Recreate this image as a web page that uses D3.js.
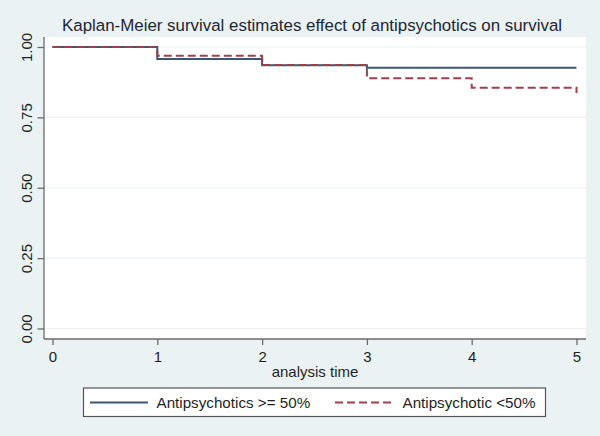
<!DOCTYPE html>
<html>
<head>
<meta charset="utf-8">
<script src="https://cdn.jsdelivr.net/npm/d3@7"></script>
<style>
  html, body { margin: 0; padding: 0; background: #eaf2f3; }
  svg { display: block; font-family: "Liberation Sans", Arial, sans-serif; }
</style>
</head>
<body>
<svg id="chart" width="600" height="436"></svg>
<script>
// ---- data ----
const times = [0, 1, 2, 3, 4, 5];
const survHigh = [1.000, 0.957, 0.935, 0.926, 0.926, 0.926];  // Antipsychotics >= 50%
const survLow  = [1.000, 0.969, 0.936, 0.889, 0.855, 0.837];  // Antipsychotic <50%
const xTicks = [0, 1, 2, 3, 4, 5];
const yTicks = [0, 0.25, 0.5, 0.75, 1];
const seriesNames = ["Antipsychotics >= 50%", "Antipsychotic <50%"];
const titleText = "Kaplan-Meier survival estimates effect of antipsychotics on survival";
const xTitle = "analysis time";

// ---- layout ----
const W = 600, H = 436;
const plot = { left: 44, right: 586, top: 37, bottom: 339 };
const svg = d3.select("#chart");

svg.append("rect").attr("width", W).attr("height", H).attr("fill", "#eaf2f3");
svg.append("rect")
  .attr("x", plot.left).attr("y", plot.top)
  .attr("width", plot.right - plot.left).attr("height", plot.bottom - plot.top)
  .attr("fill", "#ffffff");

const x = d3.scaleLinear().domain([0, 5]).range([52.5, 576.5]);
const y = d3.scaleLinear().domain([0, 1]).range([328.5, 47]);

// gridlines
svg.append("g").selectAll("line").data(yTicks).join("line")
  .attr("x1", plot.left).attr("x2", plot.right)
  .attr("y1", d => y(d)).attr("y2", d => y(d))
  .attr("stroke", "#eaf2f3").attr("stroke-width", 1.2);

const axisColor = "#6a6a6a";
const textColor = "#1f1f1f";

// y axis
const yAxis = svg.append("g").attr("transform", `translate(${plot.left},0)`)
  .call(d3.axisLeft(y).tickValues(yTicks).tickSize(6.5).tickSizeOuter(0).tickFormat(d3.format(".2f")));
yAxis.select(".domain").attr("d", `M0,${plot.top}V${plot.bottom}`).attr("stroke", axisColor).attr("stroke-width", 1.3);
yAxis.selectAll(".tick line").attr("stroke", axisColor).attr("stroke-width", 1.3);
yAxis.selectAll(".tick text")
  .attr("x", null).attr("dy", null)
  .attr("transform", "translate(-12,0) rotate(-90)")
  .attr("text-anchor", "middle")
  .attr("font-size", 15).attr("fill", textColor);

// x axis
const xAxis = svg.append("g").attr("transform", `translate(0,${plot.bottom})`)
  .call(d3.axisBottom(x).tickValues(xTicks).tickSize(6).tickSizeOuter(0).tickFormat(d3.format("d")));
xAxis.select(".domain").attr("d", `M${plot.left},0H${plot.right}`).attr("stroke", axisColor).attr("stroke-width", 1.3);
xAxis.selectAll(".tick line").attr("stroke", axisColor).attr("stroke-width", 1.3);
xAxis.selectAll(".tick text")
  .attr("y", 23).attr("dy", null)
  .attr("font-size", 15).attr("fill", textColor);

// x title
svg.append("text")
  .attr("x", (plot.left + plot.right) / 2).attr("y", 376.5)
  .attr("text-anchor", "middle").attr("font-size", 15).attr("fill", textColor)
  .text(xTitle);

// title
svg.append("text")
  .attr("x", 312).attr("y", 30.5)
  .attr("text-anchor", "middle").attr("font-size", 16.9).attr("fill", "#1e2633")
  .text(titleText);

// lines
const colHigh = "#3b5576", colLow = "#9e4049";
const line = d3.line().curve(d3.curveStepAfter).x(d => x(d[0])).y(d => y(d[1]));
const dHigh = times.map((t, i) => [t, survHigh[i]]);
const dLow = times.map((t, i) => [t, survLow[i]]);

svg.append("path").attr("d", line(dHigh))
  .attr("fill", "none").attr("stroke", colHigh).attr("stroke-width", 2);
svg.append("path").attr("d", line(dLow))
  .attr("fill", "none").attr("stroke", colLow).attr("stroke-width", 2)
  .attr("stroke-dasharray", "8,4");

// legend
const lg = svg.append("g");
lg.append("rect").attr("x", 83.5).attr("y", 388).attr("width", 462).attr("height", 28.5)
  .attr("fill", "#ffffff").attr("stroke", "#555555").attr("stroke-width", 1.2);
const legendItems = [
  { name: seriesNames[0], color: colHigh, dash: null, x1: 90, x2: 148, tx: 156.5 },
  { name: seriesNames[1], color: colLow, dash: "8,4", x1: 335, x2: 394, tx: 402.5 }
];
legendItems.forEach(it => {
  lg.append("line").attr("x1", it.x1).attr("x2", it.x2).attr("y1", 402.5).attr("y2", 402.5)
    .attr("stroke", it.color).attr("stroke-width", 2).attr("stroke-dasharray", it.dash);
  lg.append("text").attr("x", it.tx).attr("y", 408)
    .attr("font-size", 15.2).attr("fill", textColor).text(it.name);
});
</script>
</body>
</html>
